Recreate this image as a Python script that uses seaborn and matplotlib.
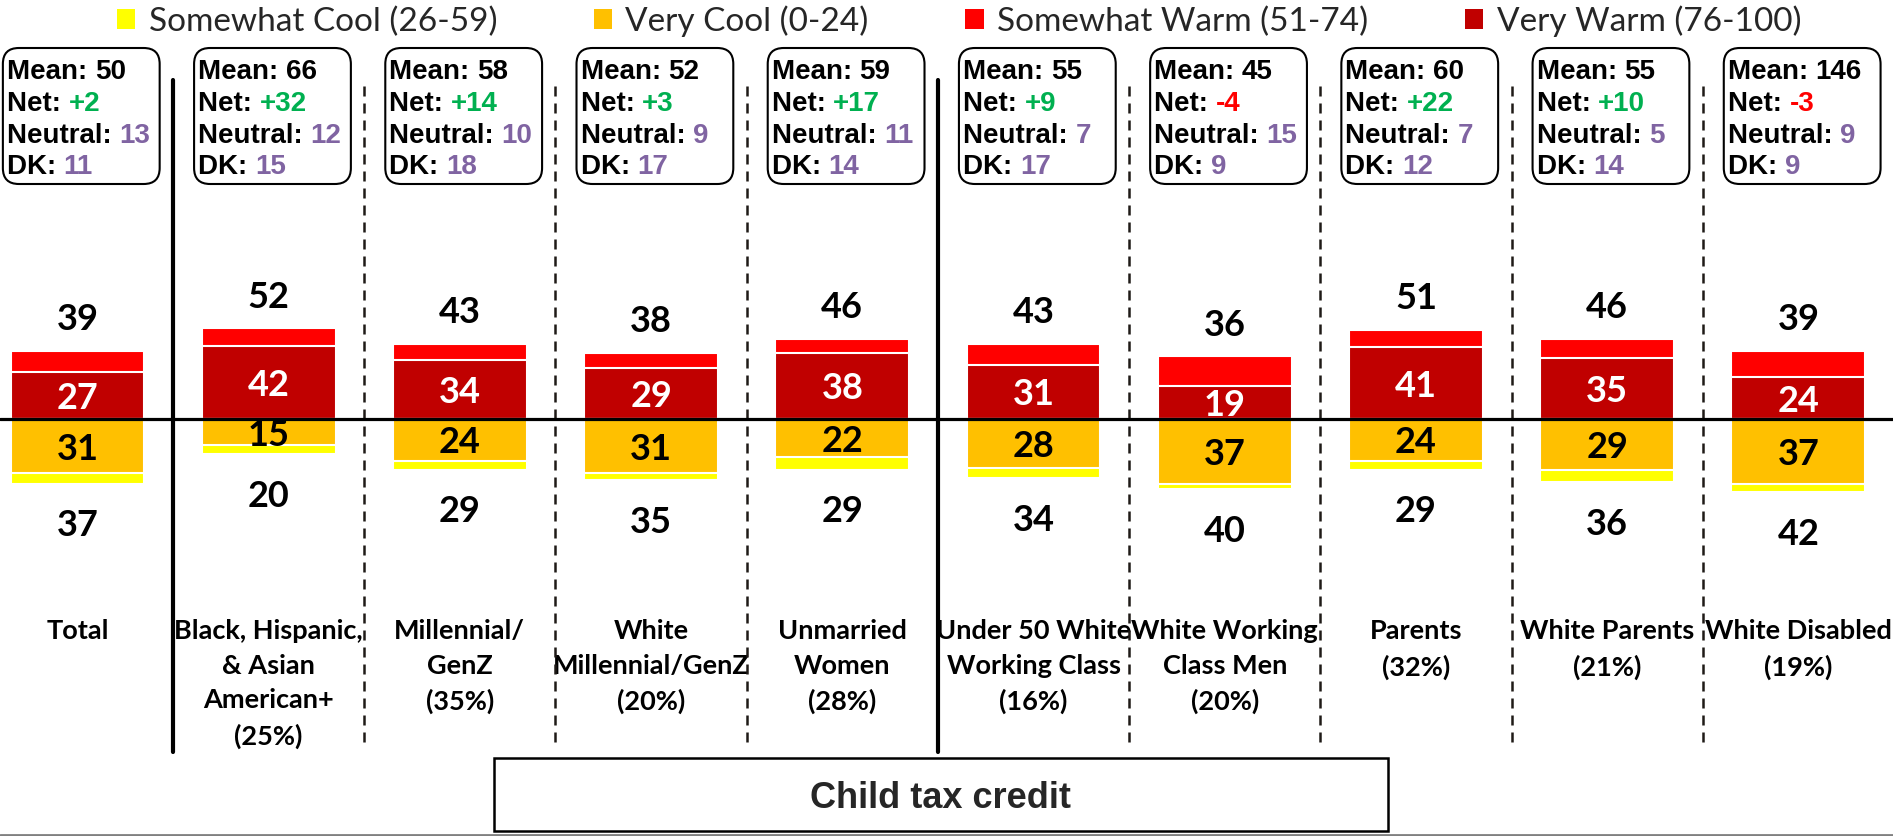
import pandas as pd
import seaborn as sns
import matplotlib.pyplot as plt
from matplotlib.patches import Patch, FancyBboxPatch, Rectangle
from matplotlib import font_manager

# data
groups = ["Total", "Black, Hispanic,\n& Asian\nAmerican+\n(25%)", "Millennial/\nGenZ\n(35%)",
          "White\nMillennial/GenZ\n(20%)", "Unmarried\nWomen\n(28%)", "Under 50 White\nWorking Class\n(16%)",
          "White Working\nClass Men\n(20%)", "Parents\n(32%)", "White Parents\n(21%)", "White Disabled\n(19%)"]
very_warm = [27, 42, 34, 29, 38, 31, 19, 41, 35, 24]
warm_total = [39, 52, 43, 38, 46, 43, 36, 51, 46, 39]
very_cool = [31, 15, 24, 31, 22, 28, 37, 24, 29, 37]
cool_total = [37, 20, 29, 35, 29, 34, 40, 29, 36, 42]
means = [50, 66, 58, 52, 59, 55, 45, 60, 55, 146]
nets = [2, 32, 14, 3, 17, 9, -4, 22, 10, -3]
neutral = [13, 12, 10, 9, 11, 7, 15, 7, 5, 9]
dk = [11, 15, 18, 17, 14, 17, 9, 12, 14, 9]

legend_labels = ["Somewhat Cool (26-59)", "Very Cool (0-24)", "Somewhat Warm (51-74)", "Very Warm (76-100)"]
legend_colors = ["#FFFF00", "#FFC000", "#FF0000", "#C00000"]
title = "Child tax credit"

GREEN = "#00B050"
RED = "#FF0000"
PURPLE = "#8064A2"

sns.set_theme(style="white")
plt.rcParams['font.family'] = ['Lato', 'DejaVu Sans']

installed = {f.name for f in font_manager.fontManager.ttflist}
if 'Liberation Sans Narrow' in installed:
    box_font, box_size = 'Liberation Sans Narrow', 22.5
else:
    box_font, box_size = 'Liberation Sans', 20

# pixel geometry -> data units
PX_UNIT = 1.745     # px per percentage point
ZERO_PX = 419
def ypx(p):
    return (ZERO_PX - p) / PX_UNIT

df = pd.DataFrame({'group': groups,
                   'warm_total': warm_total,
                   'very_warm': very_warm,
                   'cool_total': [-v for v in cool_total],
                   'very_cool': [-v for v in very_cool]})

fig = plt.figure(figsize=(18.93, 8.36), dpi=100)
ax = fig.add_axes([0, 0, 1, 1])

layers = [('warm_total', '#FF0000'), ('very_warm', '#C00000'),
          ('cool_total', '#FFFF00'), ('very_cool', '#FFC000')]
for col, color in layers:
    sns.barplot(data=df, x='group', y=col, order=groups, color=color, saturation=1,
                width=0.7, edgecolor='white', linewidth=1.5, errorbar=None, ax=ax)

ax.set_xlim(-0.405, 9.495)
ax.set_ylim(ypx(836), ypx(0))
ax.axis('off')

# zero line
ax.axhline(0, color='black', lw=2.3, zorder=5)

# separators
for s in [0.5, 4.5]:
    ax.plot([s, s], [ypx(752), ypx(80)], color='black', lw=3, zorder=4)
for s in [1.5, 2.5, 3.5, 5.5, 6.5, 7.5, 8.5]:
    ax.plot([s, s], [ypx(742), ypx(80)], color='#1F1A17', lw=1.8,
            linestyle=(0, (4, 2.8)), zorder=4)

# bar labels
for i in range(len(groups)):
    ax.text(i, warm_total[i] + 19.5, str(warm_total[i]), ha='center', va='center_baseline',
            fontsize=26, fontweight='bold', color='black')
    ax.text(i, very_warm[i] / 2, str(very_warm[i]), ha='center', va='center_baseline',
            fontsize=26, fontweight='bold', color='white', zorder=6)
    ax.text(i, -very_cool[i] / 2, str(very_cool[i]), ha='center', va='center_baseline',
            fontsize=26, fontweight='bold', color='black', zorder=6)
    ax.text(i, -cool_total[i] - 22.5, str(cool_total[i]), ha='center', va='center_baseline',
            fontsize=26, fontweight='bold', color='black')
    ax.text(i, ypx(619), groups[i], ha='center', va='top', fontsize=19.5, fontweight='bold',
            color='black', linespacing=1.53)

# stat boxes (drawn in inches so the corners stay round)
to_in = ax.transData + fig.dpi_scale_trans.inverted()
line_px = [69, 101, 133, 164]
for i in range(len(groups)):
    x0, y0 = to_in.transform((i + 0.02 - 0.41, ypx(184)))
    x1, y1 = to_in.transform((i + 0.02 + 0.41, ypx(48)))
    box = FancyBboxPatch((x0, y0), x1 - x0, y1 - y0, boxstyle="round,pad=0,rounding_size=0.16",
                         transform=fig.dpi_scale_trans, facecolor='white', edgecolor='black',
                         lw=1.5, zorder=3)
    ax.add_patch(box)
    rows = [("Mean: ", str(means[i]), 'black'),
            ("Net: ", f"{nets[i]:+d}", GREEN if nets[i] > 0 else RED),
            ("Neutral: ", str(neutral[i]), PURPLE),
            ("DK: ", str(dk[i]), PURPLE)]
    tx = i + 0.02 - 0.41 + 4 / 191.2
    for (lab, val, c), lp in zip(rows, line_px):
        t = ax.text(tx, ypx(lp), lab, ha='left', va='center_baseline', fontsize=box_size,
                    fontweight='bold', family=box_font, color='black', zorder=4)
        ax.annotate(val, xy=(1, 0), xycoords=t, ha='left', va='bottom', fontsize=box_size,
                    fontweight='bold', family=box_font, color=c, zorder=4)

# bottom title box
ax.add_patch(Rectangle((2.178, ypx(831)), 6.854 - 2.178, ypx(758) - ypx(831),
                       facecolor='white', edgecolor='black', lw=1.8, zorder=3))
ax.text(4.516, ypx(795), title, ha='center', va='center_baseline', fontsize=26,
        fontweight='bold', family='Liberation Sans', zorder=4)

# thin grey rule at the very bottom
ax.axhline(ypx(834.5), color='#808080', lw=2)

# legend
handles = [Patch(facecolor=c, edgecolor='none', label=l) for l, c in zip(legend_labels, legend_colors)]
fig.legend(handles=handles, loc='center', bbox_to_anchor=(959 / 1893, 1 - 21 / 836), ncol=4,
           frameon=False, fontsize=24, handlelength=0.55, handleheight=0.55,
           handletextpad=0.4, columnspacing=2.9, borderpad=0, borderaxespad=0)

plt.savefig('out.png', dpi=100)
